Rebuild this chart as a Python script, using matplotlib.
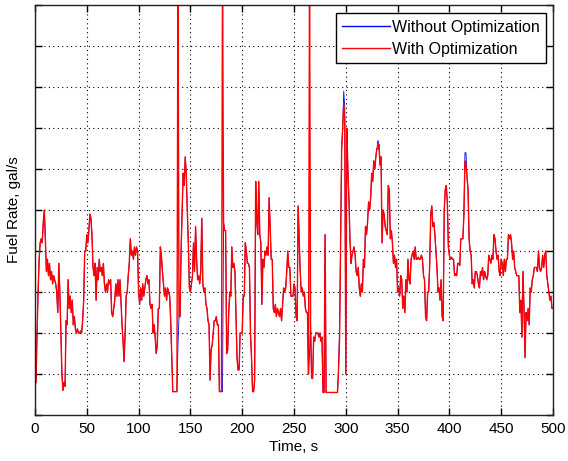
import numpy as np
import matplotlib
matplotlib.use("Agg")
import matplotlib.pyplot as plt

plt.rcParams['font.family'] = ['Liberation Sans', 'DejaVu Sans']

# Time axis, one sample per second
time_s = np.arange(0, 501)

# Fuel rate without optimization (one row per 10 s)
fuel_without = [
    0.75, 0.8, 2.0, 3.0, 3.8, 4.2, 4.3, 4.2, 4.7, 5.0,
    4.3, 3.5, 3.8, 3.4, 3.7, 3.3, 3.5, 3.2, 3.4, 3.3,
    3.2, 3.0, 2.5, 3.7, 3.0, 2.0, 1.0, 0.6, 0.8, 0.7,
    2.3, 2.2, 3.3, 2.6, 2.9, 2.5, 2.8, 2.2, 2.4, 2.1,
    2.0, 2.1, 2.0, 2.0, 2.05, 2.0, 2.3, 2.8, 4.0, 4.0,
    4.4, 4.2, 4.5, 4.9, 4.8, 4.4, 3.6, 3.4, 3.7, 2.8,
    3.6, 3.3, 3.8, 3.5, 3.6, 3.4, 3.7, 3.2, 3.0, 3.2,
    3.0, 3.3, 3.2, 3.3, 2.5, 2.4, 2.6, 2.8, 3.2, 2.9,
    3.3, 2.9, 3.3, 2.8, 2.2, 1.8, 1.3, 2.0, 2.9, 3.0,
    3.4, 3.7, 4.3, 3.9, 4.0, 3.8, 4.1, 3.9, 4.1, 4.0,
    3.0, 2.7, 3.1, 2.8, 3.2, 2.9, 3.1, 3.3, 3.4, 3.2,
    3.3, 2.7, 2.6, 2.7, 2.0, 2.2, 1.9, 1.5, 1.7, 2.6,
    2.6, 4.1, 3.9, 3.5, 3.2, 2.9, 3.1, 2.8, 3.1, 3.0,
    2.9, 2.3, 1.4, 0.57, 0.57, 0.57, 0.57, 0.57, 1.7, 2.4,
    2.4, 4.0, 5.0, 5.9, 5.6, 6.3, 5.9, 5.0, 4.2, 3.1,
    3.0, 3.2, 3.4, 4.2, 3.5, 4.6, 3.8, 3.3, 3.4, 3.2,
    3.5, 4.8, 3.2, 3.0, 3.1, 2.7, 2.6, 2.3, 2.2, 0.85,
    1.6, 1.7, 2.0, 2.3, 2.3, 2.4, 2.2, 2.2, 0.57, 0.57,
    0.57, 0.57, 4.7, 4.5, 4.5, 1.5, 1.6, 2.5, 3.0, 2.9,
    4.1, 3.6, 3.7, 3.5, 2.5, 1.4, 1.1, 1.1, 2.0, 2.0,
    2.0, 2.9, 2.9, 4.2, 4.0, 3.7, 3.7, 3.6, 2.0, 1.4,
    0.57, 0.57, 0.85, 5.7, 4.8, 4.4, 5.7, 4.4, 4.2, 2.7,
    3.8, 3.6, 4.0, 3.9, 4.1, 3.9, 5.3, 4.6, 3.8, 3.8,
    2.6, 2.5, 2.7, 2.4, 2.6, 2.5, 2.4, 2.6, 2.3, 2.7,
    3.1, 3.0, 3.1, 3.5, 4.0, 3.6, 3.6, 2.9, 2.9, 2.9,
    3.2, 3.1, 2.4, 2.3, 5.1, 4.3, 3.5, 3.0, 3.1, 2.9,
    3.0, 2.6, 2.5, 2.5, 1.0, 1.5, 2.2, 0.9, 0.9, 1.9,
    1.8, 2.0, 2.0, 2.0, 1.9, 2.0, 1.8, 1.9, 0.55, 0.55,
    4.4, 0.55, 0.55, 0.55, 0.55, 0.55, 0.55, 0.55, 0.55, 0.55,
    0.55, 0.55, 0.55, 1.1, 2.1, 4.2, 6.5, 7.0, 7.9, 7.5,
    1.0, 7.0, 6.0, 5.3, 4.3, 3.7, 3.9, 4.0, 4.1, 3.9,
    3.5, 3.4, 3.6, 3.1, 2.9, 3.2, 3.0, 3.8, 3.6, 4.6,
    4.4, 4.7, 5.2, 5.0, 5.3, 5.9, 5.7, 6.2, 6.0, 6.3,
    6.5, 6.7, 6.6, 6.1, 6.3, 4.2, 5.0, 4.9, 4.6, 4.5,
    4.4, 5.6, 5.5, 4.3, 4.5, 4.2, 3.7, 3.9, 3.6, 3.8,
    3.0, 3.1, 2.9, 3.4, 3.3, 2.6, 2.9, 2.5, 3.3, 3.0,
    3.8, 3.3, 3.2, 3.8, 3.9, 4.0, 3.8, 4.1, 3.8, 3.8,
    3.85, 3.8, 3.8, 3.9, 3.8, 3.4, 3.3, 2.4, 2.3, 3.0,
    3.0, 3.7, 4.9, 5.1, 4.6, 4.7, 4.4, 4.0, 3.6, 3.0,
    3.1, 2.8, 3.3, 2.4, 2.3, 5.0, 5.5, 5.6, 5.2, 4.1,
    3.9, 3.8, 3.85, 3.8, 3.8, 3.4, 3.45, 3.4, 3.7, 3.7,
    3.65, 4.3, 4.3, 4.3, 4.9, 6.4, 6.4, 5.8, 5.5, 4.3,
    4.0, 3.9, 3.2, 3.3, 3.1, 3.5, 3.5, 3.4, 3.2, 3.1,
    3.5, 3.4, 3.6, 3.3, 3.5, 3.4, 3.3, 3.4, 3.9, 3.8,
    3.7, 3.9, 3.8, 4.4, 4.3, 4.0, 3.8, 3.9, 3.5, 3.4,
    3.8, 3.7, 3.4, 3.8, 3.5, 3.8, 3.8, 4.4, 4.3, 4.4,
    4.2, 3.8, 4.0, 3.6, 3.5, 3.4, 3.4, 3.4, 2.5, 2.8,
    1.9, 3.5, 2.6, 1.4, 2.5, 2.3, 2.6, 2.2, 3.1, 3.0,
    3.3, 3.4, 3.6, 3.6, 3.6, 3.5, 4.0, 3.6, 3.5, 3.6,
    3.9, 3.6, 3.9, 4.0, 3.4, 3.2, 3.0, 2.8, 2.9, 2.6,
    2.6,
]

# Samples where the optimized run departs from the baseline (time s -> rate)
optimized_changes_t = [138, 181, 265, 294, 298, 299, 331, 415, 416]
optimized_changes_v = [11.0, 11.0, 11.0, 1.9, 7.6, 7.2, 6.5, 6.2, 6.1]

fuel_with = list(fuel_without)
for t, v in zip(optimized_changes_t, optimized_changes_v):
    fuel_with[t] = v

x_ticks = list(range(0, 501, 50))
y_ticks = list(range(0, 11))

fig = plt.figure(figsize=(5.68, 4.61), dpi=100)
ax = fig.add_axes([0.0616, 0.0998, 0.912, 0.889])

ax.plot(time_s, fuel_without, color='#0000ff', lw=0.6, label='Without Optimization')
ax.plot(time_s, fuel_with, color='#ff0000', lw=1.0, label='With Optimization')

ax.set_xlim(0, 500)
ax.set_ylim(0, 10)
ax.set_xticks(x_ticks)
ax.set_yticks(y_ticks)
ax.set_yticklabels([])
ax.tick_params(direction='in', top=True, right=True, length=5, width=1,
               labelsize=11, colors='black', pad=5)
ax.grid(True, color='black', linestyle=(0, (1, 3)), linewidth=0.8)
for s in ax.spines.values():
    s.set_linewidth(1.0)
    s.set_color('#222222')

ax.set_xlabel('Time, s', fontsize=11, labelpad=3)
ax.set_ylabel('Fuel Rate, gal/s', fontsize=11)
ax.yaxis.set_label_coords(-0.027, 0.5)

leg = ax.legend(loc='upper right', bbox_to_anchor=(0.9865, 0.9805),
                fontsize=11.5, handlelength=3.0,
                handletextpad=0.1, labelspacing=0.45, borderpad=0.4,
                borderaxespad=0.0, fancybox=False, framealpha=1.0)
for h in leg.get_lines():
    h.set_linewidth(1.0)
leg.get_frame().set_edgecolor('black')
leg.get_frame().set_linewidth(1.0)

fig.savefig('out.png', dpi=100)
